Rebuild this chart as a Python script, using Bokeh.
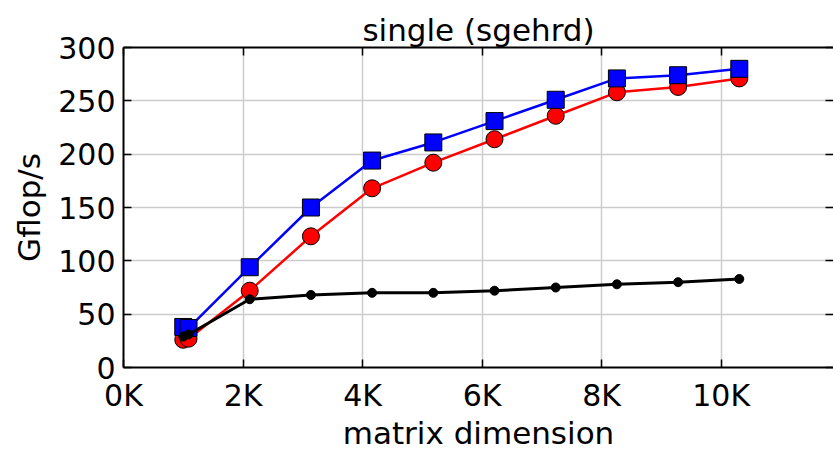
from bokeh.plotting import figure
from bokeh.models import LinearAxis, FixedTicker, Range1d, CustomLabelingPolicy
from bokeh.embed import file_html
from bokeh.resources import INLINE

# data
sizes = [1000, 1088, 2112, 3136, 4160, 5184, 6208, 7232, 8256, 9280, 10304]
blue_vals = [38, 37, 94, 150, 194, 211, 231, 251, 271, 274, 280]
red_vals = [26, 27, 72, 123, 168, 192, 214, 236, 258, 263, 271]
black_vals = [29, 31, 64, 68, 70, 70, 72, 75, 78, 80, 83]
x_ticks = [0, 2000, 4000, 6000, 8000, 10000]
x_tick_labels = ["0K", "2K", "4K", "6K", "8K", "10K"]
y_ticks = [0, 50, 100, 150, 200, 250, 300]

FONT = "DejaVu Sans"

p = figure(width=833, height=453, output_backend="svg", toolbar_location=None,
           x_range=Range1d(0, 11880), y_range=Range1d(0, 300),
           min_border_left=123, min_border_right=0, min_border_top=47,
           min_border_bottom=85, x_axis_label="matrix dimension",
           y_axis_label="Gflop/s")

p.title.text = "single (sgehrd)"
p.title.text_font = FONT
p.title.text_font_size = "31px"
p.title.text_font_style = "normal"
p.title.text_color = "black"
p.title.align = "center"
p.title.offset = 5
p.title.standoff = 0

p.outline_line_color = None
p.background_fill_color = "white"
p.border_fill_color = "white"

for g in (p.xgrid, p.ygrid):
    g.grid_line_color = "#cccccc"
    g.grid_line_width = 1.5
p.xgrid.ticker = FixedTicker(ticks=x_ticks)
p.ygrid.ticker = FixedTicker(ticks=y_ticks)

def style_axis(ax, ticks):
    ax.ticker = FixedTicker(ticks=ticks)
    ax.axis_line_width = 2
    ax.axis_line_color = "black"
    ax.major_tick_in = 8
    ax.major_tick_out = 0
    ax.major_tick_line_width = 1.5
    ax.minor_tick_line_color = None
    ax.major_label_text_font = FONT
    ax.major_label_text_font_size = "30px"
    ax.major_label_text_color = "black"
    ax.axis_label_text_font = FONT
    ax.axis_label_text_font_size = "31px"
    ax.axis_label_text_font_style = "normal"
    ax.axis_label_text_color = "black"

xa = p.xaxis[0]
style_axis(xa, x_ticks)
xa.major_label_overrides = {t: l for t, l in zip(x_ticks, x_tick_labels)}
xa.major_label_standoff = 10
xa.axis_label_standoff = -1
xa.axis_label_text_line_height = 0.8

ya = p.yaxis[0]
style_axis(ya, y_ticks)
ya.major_label_standoff = 8
ya.axis_label_standoff = 8

hide_all = CustomLabelingPolicy(code="""
    for (const i of Array.from(indices)) indices.unset(i)
    return indices
""")

top = LinearAxis()
style_axis(top, x_ticks)
top.major_label_text_font_size = "0px"
top.major_label_standoff = 0
top.major_label_policy = hide_all
p.add_layout(top, "above")

right = LinearAxis()
style_axis(right, y_ticks)
right.axis_line_color = None
right.major_label_text_font_size = "0px"
right.major_label_standoff = 0
right.major_label_policy = hide_all
p.add_layout(right, "right")

p.line(sizes, red_vals, line_color="#ff0000", line_width=2.5)
p.scatter(sizes, red_vals, marker="circle", size=17, fill_color="#ff0000",
          line_color="black", line_width=1)
p.line(sizes, blue_vals, line_color="#0000ff", line_width=2.5)
p.scatter(sizes, blue_vals, marker="square", size=17, fill_color="#0000ff",
          line_color="black", line_width=1)
p.line(sizes, black_vals, line_color="black", line_width=3)
p.scatter(sizes, black_vals, marker="circle", size=9, fill_color="black",
          line_color="black", line_width=1)

open("out.html", "w").write(file_html(p, INLINE))
